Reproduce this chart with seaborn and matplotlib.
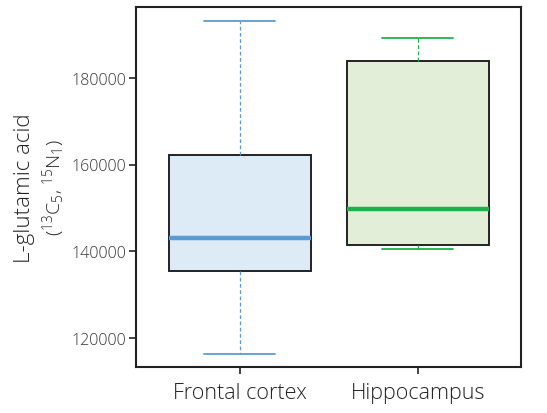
import pandas as pd
import numpy as np
import matplotlib.pyplot as plt
import seaborn as sns

# Five-number summaries (min, q1, median, q3, max)
regions = ['Frontal cortex', 'Hippocampus']
frontal_values = [116200, 135400, 143000, 162200, 193200]
hippo_values = [140500, 141400, 149700, 183900, 189300]
fill_colors = ['#dcebf6', '#e2eed8']
line_colors = ['#5b9bd5', '#1fb04c']
y_ticks = [120000, 140000, 160000, 180000]

df = pd.DataFrame({
    'region': [regions[0]] * len(frontal_values) + [regions[1]] * len(hippo_values),
    'value': frontal_values + hippo_values,
})

sns.set_style("white")
plt.rcParams['font.family'] = ['Open Sans', 'DejaVu Sans']
plt.rcParams['font.weight'] = 'light'
plt.rcParams['mathtext.fontset'] = 'custom'
plt.rcParams['mathtext.rm'] = 'Open Sans:light'
plt.rcParams['mathtext.it'] = 'Open Sans:light'

fig = plt.figure(figsize=(5.47, 4.14), dpi=100)
ax = fig.add_axes([136 / 547, 1 - 368 / 414, 385 / 547, 360 / 414])

for region, fill, line in zip(regions, fill_colors, line_colors):
    sub = df[df['region'] == region]
    sns.boxplot(data=sub, x='region', y='value', order=regions, ax=ax,
                color=fill, saturation=1, width=0.8, whis=3.0,
                linecolor='black', linewidth=1.4, showfliers=False,
                whiskerprops=dict(color=line, linestyle=(0, (3, 2)), linewidth=0.9),
                capprops=dict(color=line, linewidth=1.3),
                medianprops=dict(color=line, linewidth=3.2),
                boxprops=dict(edgecolor='#222222', linewidth=1.4))

# caps are half the box width
for ln in ax.lines:
    xd = ln.get_xdata()
    if len(xd) == 2 and xd[0] != xd[1]:
        yd = ln.get_ydata()
        if yd[0] == yd[1] and abs(xd[1] - xd[0]) < 0.5:
            c = (xd[0] + xd[1]) / 2
            ln.set_xdata([c - 0.2, c + 0.2])

ax.set_xlim(-0.584, 1.58)
ax.set_ylim(113200, 196400)
ax.set_yticks(y_ticks)
ax.set_yticklabels([str(t) for t in y_ticks])
ax.set_xlabel('')
ax.set_ylabel('')

for s in ax.spines.values():
    s.set_visible(True)
    s.set_color('#222222')
    s.set_linewidth(1.5)

ax.tick_params(axis='both', which='major', direction='out', length=5, width=1.2,
               color='#222222', left=True, bottom=True)
ax.tick_params(axis='y', labelsize=11.5, labelcolor='#333333', pad=2)
ax.tick_params(axis='x', labelsize=15.5, labelcolor='#222222', pad=6)

ax.text(-0.29, 0.5, 'L-glutamic acid', transform=ax.transAxes, rotation=90,
        ha='center', va='center', fontsize=16, color='#222222')
ax.text(-0.215, 0.5, r'($^{13}$C$_5$, $^{15}$N$_1$)', transform=ax.transAxes,
        rotation=90, ha='center', va='center', fontsize=14, color='#222222')

plt.savefig('out.png', dpi=100)
plt.close()
